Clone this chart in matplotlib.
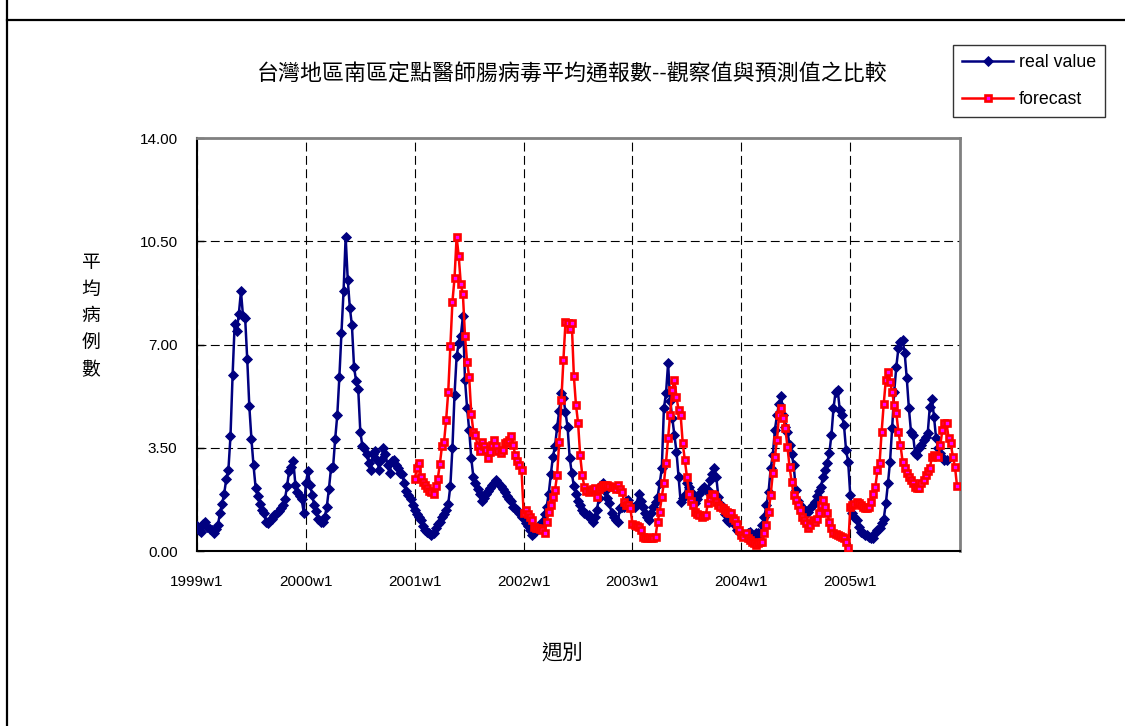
import numpy as np
import matplotlib
matplotlib.use('Agg')
import matplotlib.pyplot as plt
from matplotlib.lines import Line2D
from matplotlib.ticker import FormatStrFormatter

plt.rcParams['font.family'] = ['Liberation Sans', 'Noto Sans CJK TC', 'DejaVu Sans']

# Weekly average enterovirus reports per sentinel physician (southern region)
# observed values, 1999w1 .. 2005w47
real_1999 = [0.85, 0.70, 0.65, 0.90, 1.00, 0.82, 0.75, 0.70, 0.60, 0.75, 0.88, 1.30, 1.60,
             1.95, 2.45, 2.75, 3.90, 5.95, 7.70, 7.45, 8.05, 8.80, 7.95, 7.90, 6.50, 4.90,
             3.80, 2.90, 2.15, 1.85, 1.60, 1.40, 1.28, 1.00, 0.95, 1.05, 1.10, 1.22, 1.28,
             1.35, 1.45, 1.55, 1.75, 2.20, 2.70, 2.85, 3.05, 2.25, 2.00, 1.85, 1.75, 1.30]
real_2000 = [2.30, 2.70, 2.25, 1.90, 1.55, 1.35, 1.10, 1.00, 1.00, 1.15, 1.50, 2.10, 2.80,
             2.85, 3.80, 4.60, 5.90, 7.40, 8.80, 10.65, 9.20, 8.25, 7.65, 6.25, 5.75, 5.50,
             4.05, 3.55, 3.50, 3.30, 3.00, 2.75, 3.30, 3.40, 3.10, 2.75, 3.10, 3.50, 3.30,
             2.90, 2.65, 3.05, 3.10, 2.90, 2.80, 2.65, 2.60, 2.30, 2.05, 1.90, 1.75, 1.55]
real_2001 = [1.40, 1.25, 1.15, 1.05, 0.85, 0.70, 0.66, 0.62, 0.55, 0.60, 0.77, 0.90, 1.00,
             1.15, 1.25, 1.40, 1.60, 2.20, 3.50, 5.30, 6.60, 7.05, 7.30, 7.95, 5.80, 4.85,
             4.10, 3.15, 2.50, 2.30, 2.10, 1.95, 1.70, 1.80, 1.95, 2.05, 2.15, 2.25, 2.30,
             2.40, 2.30, 2.20, 2.10, 2.00, 1.85, 1.75, 1.70, 1.50, 1.45, 1.40, 1.30, 1.15]
real_2002 = [1.11, 0.95, 0.85, 0.71, 0.55, 0.60, 0.77, 0.80, 0.85, 1.00, 1.25, 1.50, 1.95,
             2.60, 3.20, 3.55, 4.20, 4.75, 5.35, 5.20, 4.70, 4.20, 3.15, 2.65, 2.20, 1.95,
             1.70, 1.56, 1.40, 1.30, 1.25, 1.22, 1.10, 1.00, 1.15, 1.40, 1.80, 2.24, 2.30,
             2.05, 1.80, 1.62, 1.30, 1.15, 1.05, 1.00, 1.45, 1.50, 1.50, 1.70, 1.73, 1.50]
real_2003 = [1.50, 1.50, 1.60, 1.95, 1.70, 1.50, 1.28, 1.15, 1.05, 1.28, 1.50, 1.65, 1.84,
             2.30, 2.80, 4.84, 5.34, 6.36, 5.10, 4.50, 3.93, 3.37, 2.52, 1.67, 1.80, 1.90,
             2.29, 2.18, 2.00, 1.84, 1.62, 1.75, 1.95, 2.10, 2.18, 2.07, 2.07, 2.41, 2.60,
             2.80, 2.52, 1.84, 1.60, 1.50, 1.25, 1.05, 1.00, 1.16, 1.00, 0.88, 0.71, 0.65]
real_2004 = [0.60, 0.55, 0.49, 0.60, 0.66, 0.55, 0.49, 0.60, 0.60, 0.62, 0.88, 1.16, 1.56,
             2.01, 2.80, 3.25, 4.10, 4.60, 5.00, 5.25, 4.60, 4.20, 4.05, 3.60, 3.30, 2.90,
             2.07, 1.70, 1.56, 1.45, 1.39, 1.35, 1.33, 1.45, 1.55, 1.67, 1.85, 2.05, 2.18,
             2.52, 2.75, 2.97, 3.31, 3.93, 4.84, 5.40, 5.46, 4.78, 4.61, 4.27, 3.42, 3.03]
real_2005 = [1.90, 1.28, 1.16, 1.05, 0.80, 0.66, 0.60, 0.56, 0.54, 0.49, 0.45, 0.43, 0.60,
             0.70, 0.77, 0.94, 1.10, 1.62, 2.29, 3.03, 4.16, 5.40, 6.25, 6.87, 7.10, 7.15,
             6.70, 5.85, 4.84, 4.05, 3.93, 3.31, 3.25, 3.48, 3.60, 3.76, 3.85, 3.99, 4.89,
             5.17, 4.55, 3.82, 3.50, 3.31, 3.20, 3.08, 3.10]

# model forecast, 2001w1 .. 2005w52
forecast_2001 = [2.45, 2.80, 3.00, 2.50, 2.35, 2.25, 2.15, 2.05, 2.00, 1.95, 2.20, 2.45, 2.95,
                 3.55, 3.70, 4.45, 5.40, 6.95, 8.45, 9.25, 10.65, 10.00, 9.05, 8.70, 7.30, 6.40,
                 5.90, 4.65, 4.05, 3.95, 3.55, 3.40, 3.70, 3.55, 3.42, 3.14, 3.37, 3.60, 3.76,
                 3.55, 3.40, 3.31, 3.42, 3.65, 3.70, 3.76, 3.90, 3.60, 3.25, 3.05, 2.90, 2.75]
forecast_2002 = [1.30, 1.39, 1.25, 1.16, 1.05, 0.80, 0.77, 0.77, 0.75, 0.71, 0.60, 1.00, 1.33,
                 1.56, 1.84, 2.07, 2.58, 3.71, 5.12, 6.47, 7.77, 7.72, 7.51, 7.72, 5.93, 4.95,
                 4.35, 3.25, 2.58, 2.18, 2.05, 2.01, 2.07, 2.10, 2.12, 1.84, 2.10, 2.18, 2.24,
                 2.24, 2.24, 2.20, 2.18, 2.18, 2.10, 2.24, 2.10, 2.01, 1.67, 1.56, 1.56, 1.45]
forecast_2003 = [0.90, 0.88, 0.85, 0.82, 0.71, 0.49, 0.45, 0.43, 0.49, 0.45, 0.43, 0.49, 1.00,
                 1.33, 1.84, 2.30, 3.00, 3.82, 4.60, 5.46, 5.80, 5.23, 4.78, 4.61, 3.65, 3.08,
                 2.52, 1.95, 1.70, 1.56, 1.33, 1.25, 1.22, 1.16, 1.20, 1.22, 1.62, 1.80, 1.95,
                 1.90, 1.67, 1.56, 1.50, 1.45, 1.40, 1.33, 1.30, 1.28, 1.11, 1.05, 0.90, 0.71]
forecast_2004 = [0.55, 0.49, 0.60, 0.45, 0.37, 0.30, 0.26, 0.20, 0.26, 0.32, 0.32, 0.60, 0.88,
                 1.33, 1.90, 2.63, 3.20, 3.76, 4.61, 4.84, 4.50, 4.16, 3.54, 2.86, 2.35, 1.90,
                 1.73, 1.56, 1.39, 1.16, 1.05, 0.95, 0.77, 0.88, 1.05, 1.00, 1.10, 1.28, 1.56,
                 1.73, 1.50, 1.28, 1.00, 0.77, 0.60, 0.58, 0.54, 0.50, 0.49, 0.43, 0.32, 0.09]
forecast_2005 = [1.50, 1.56, 1.60, 1.67, 1.62, 1.55, 1.50, 1.45, 1.45, 1.50, 1.67, 1.95, 2.18,
                 2.75, 2.97, 4.05, 5.00, 5.80, 6.08, 5.74, 5.40, 4.95, 4.67, 4.05, 3.59, 3.03,
                 2.80, 2.63, 2.50, 2.41, 2.29, 2.18, 2.15, 2.12, 2.29, 2.41, 2.58, 2.70, 2.80,
                 3.20, 3.25, 3.22, 3.20, 3.59, 4.10, 4.33, 4.33, 3.82, 3.65, 3.20, 2.86, 2.21]

year_labels = ['1999w1', '2000w1', '2001w1', '2002w1', '2003w1', '2004w1', '2005w1']
weeks_per_year = 52
forecast_start = 2 * weeks_per_year  # 2001w1

real = np.concatenate([real_1999, real_2000, real_2001, real_2002,
                       real_2003, real_2004, real_2005])
forecast = np.concatenate([forecast_2001, forecast_2002, forecast_2003,
                           forecast_2004, forecast_2005])
x_real = np.arange(len(real))
x_forecast = forecast_start + np.arange(len(forecast))

fig = plt.figure(figsize=(11.25, 7.26), dpi=100)
ax = fig.add_axes([0.1751, 0.2410, 0.6782, 0.5689])

ax.plot(x_real, real, color='#000080', lw=1.8, marker='D', ms=5.6,
        mfc='#000080', mec='#000080', mew=0.6, label='real value', zorder=3)
ax.plot(x_forecast, forecast, color='#FF0000', lw=1.8, marker='s', ms=3.8,
        mfc='#FF00FF', mec='#FF0000', mew=1.9, label='forecast', zorder=4)

ax.set_xlim(0, 364.4)
ax.set_ylim(0, 14)
ax.set_yticks(np.arange(0, 14.01, 3.5))
ax.yaxis.set_major_formatter(FormatStrFormatter('%.2f'))
ax.set_xticks(np.arange(len(year_labels)) * weeks_per_year)
ax.set_xticklabels(year_labels)

ax.grid(True, color='black', lw=0.8, linestyle=(0, (8, 4)))
ax.set_axisbelow(True)

for side in ['left', 'bottom']:
    ax.spines[side].set_color('black')
    ax.spines[side].set_linewidth(1.5)
for side in ['top', 'right']:
    ax.spines[side].set_color('#808080')
    ax.spines[side].set_linewidth(2)

ax.tick_params(axis='y', direction='in', length=5, width=1, pad=14, labelsize=11)
ax.tick_params(axis='x', length=0, pad=17, labelsize=11)

# title and axis labels
fig.text(0.5084, 1 - 75 / 726, '台灣地區南區定點醫師腸病毒平均通報數--觀察值與預測值之比較',
         ha='center', va='center', fontsize=15.8)
fig.text(0.0809, 1 - 317 / 726, '平\n均\n病\n例\n數', ha='center', va='center',
         fontsize=13.5, linespacing=1.75)
fig.text(562 / 1125, 1 - 653 / 726, '週別', ha='center', va='center', fontsize=15)

leg = fig.legend(loc='upper left', bbox_to_anchor=(953 / 1125, 1 - 45 / 726),
                 fontsize=12.8, frameon=True, fancybox=False, edgecolor='black',
                 handlelength=2.9, handletextpad=0.3, borderpad=0.5,
                 labelspacing=1.14, borderaxespad=0)
leg.get_frame().set_linewidth(1)

# sheet border lines
fig.add_artist(Line2D([7 / 1125, 7 / 1125], [0, 1], transform=fig.transFigure,
                      color='black', lw=1.6))
fig.add_artist(Line2D([7 / 1125, 1], [1 - 20 / 726, 1 - 20 / 726],
                      transform=fig.transFigure, color='black', lw=1.6))

fig.savefig('out.png', dpi=100)
